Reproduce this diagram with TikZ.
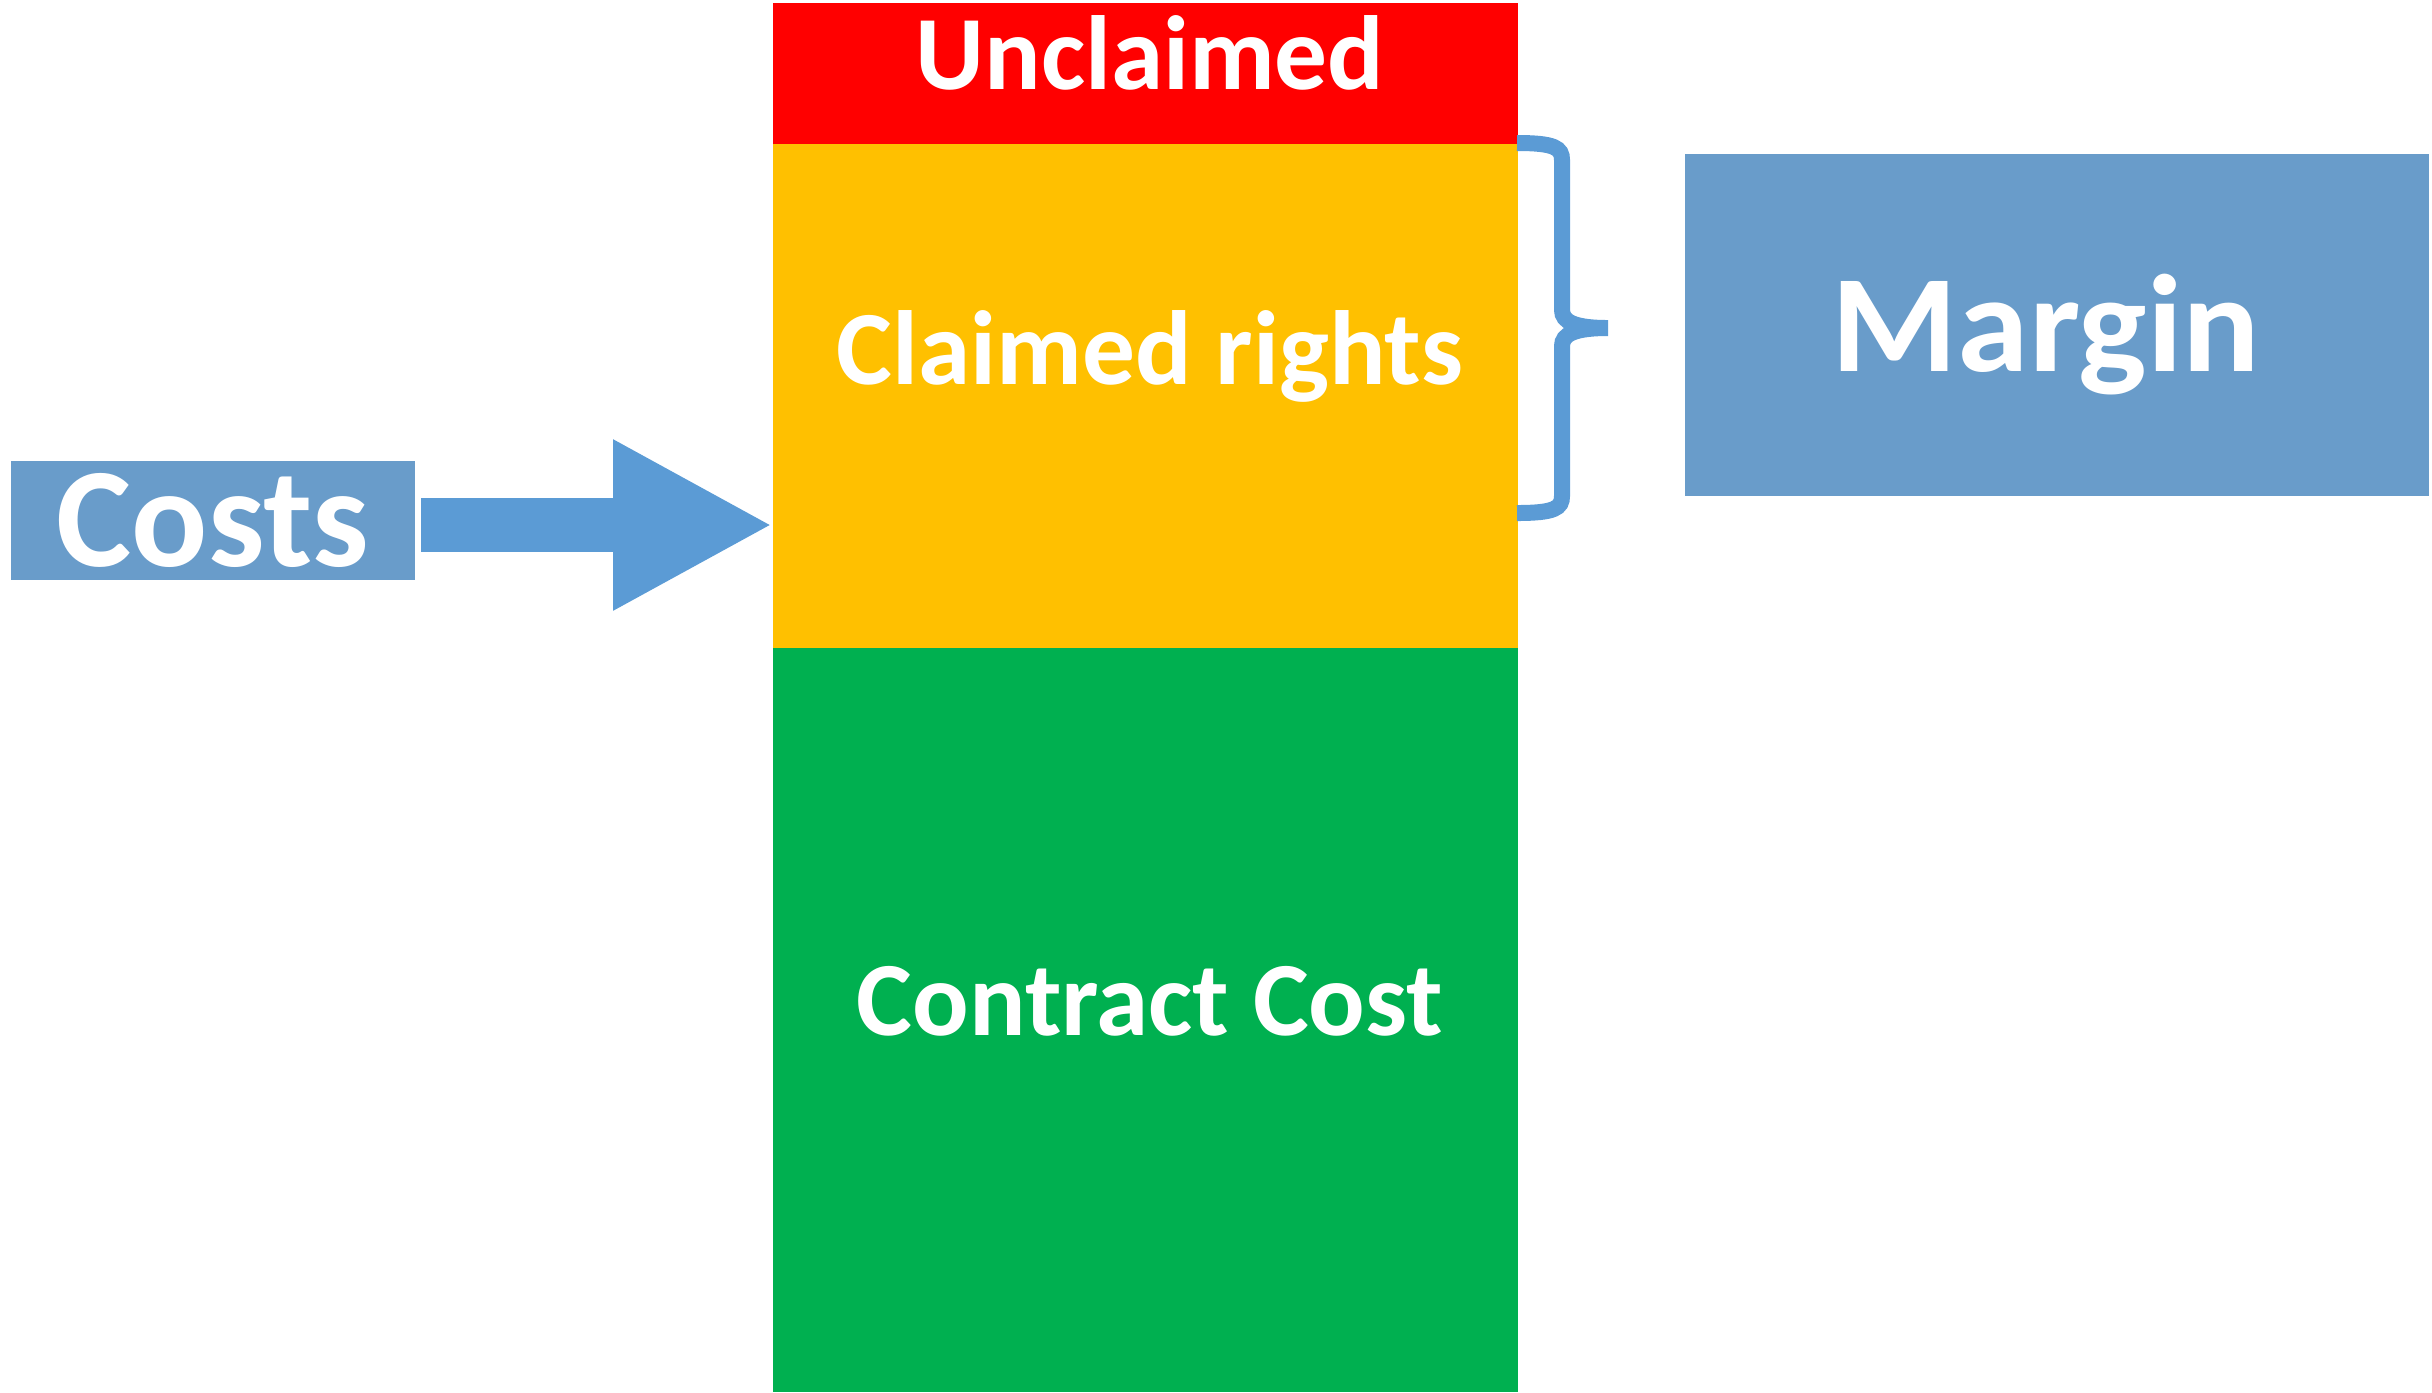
\documentclass[tikz,border=0pt]{standalone}
\usepackage{fontspec}
\setmainfont{Carlito}
\usetikzlibrary{arrows.meta}
\definecolor{bandred}{HTML}{FF0000}
\definecolor{bandyellow}{HTML}{FFC000}
\definecolor{bandgreen}{HTML}{00B050}
\definecolor{boxblue}{HTML}{699CCA}
\definecolor{flowblue}{HTML}{5B9BD5}
\begin{document}
\begin{tikzpicture}[x=0.1mm,y=-0.1mm,
        band/.style={fill=#1, minimum width=74.5mm, inner sep=0pt, outer sep=0pt},
        lbl/.style={text=white, font=\bfseries\fontsize{30}{36}\selectfont, inner sep=0pt},
        tag/.style={fill=boxblue, text=white, inner sep=0pt, outer sep=0pt},
        flow/.style={flowblue, line width=5.4mm, -{Triangle[length=16mm,width=15.9mm]}}]
                \useasboundingbox (0,0) rectangle (2432,1392);

                \node [band=bandred, minimum height=14.1mm] (unclaimed) at (1145.5,73.5) {};
                \node [band=bandyellow, minimum height=50.4mm] (claimed) at (1145.5,396) {};
                \node [band=bandgreen, minimum height=74.4mm] (contract) at (1145.5,1020) {};

                \node [lbl, anchor=base] (unclaimedtext) at (1150,89) {Unclaimed};
                \node [lbl, anchor=base] (claimedtext) at (1150,384) {Claimed rights};
                \node [lbl, anchor=base] (contracttext) at (1150,1035) {Contract Cost};

                \node [tag, minimum width=40.4mm, minimum height=11.9mm,
                        font=\bfseries\fontsize{40.4}{48}\selectfont] (costs) at (213,520.5) {Costs};
                \node [tag, minimum width=74.4mm, minimum height=34.2mm] (margin) at (2057,325) {};
                \node [lbl, anchor=base, font=\bfseries\fontsize{39.5}{48}\selectfont]
                        (margintext) at (2046,371) {\scalebox{1.04}[1]{Margin}};

                \draw [flow] ([xshift=0.6mm,yshift=-0.45mm]costs.east) -- ([yshift=-0.45mm]costs.east -| claimed.west);

                \draw [flowblue, line width=1.6mm]
                        (1517,143) .. controls (1555,143) and (1562,148) .. (1562,160) -- (1562,310)
                        .. controls (1562,322) and (1575,328) .. (1608,328)
                        .. controls (1575,328) and (1562,334) .. (1562,346) -- (1562,496)
                        .. controls (1562,508) and (1555,513) .. (1517,513);
            \end{tikzpicture}
\end{document}
